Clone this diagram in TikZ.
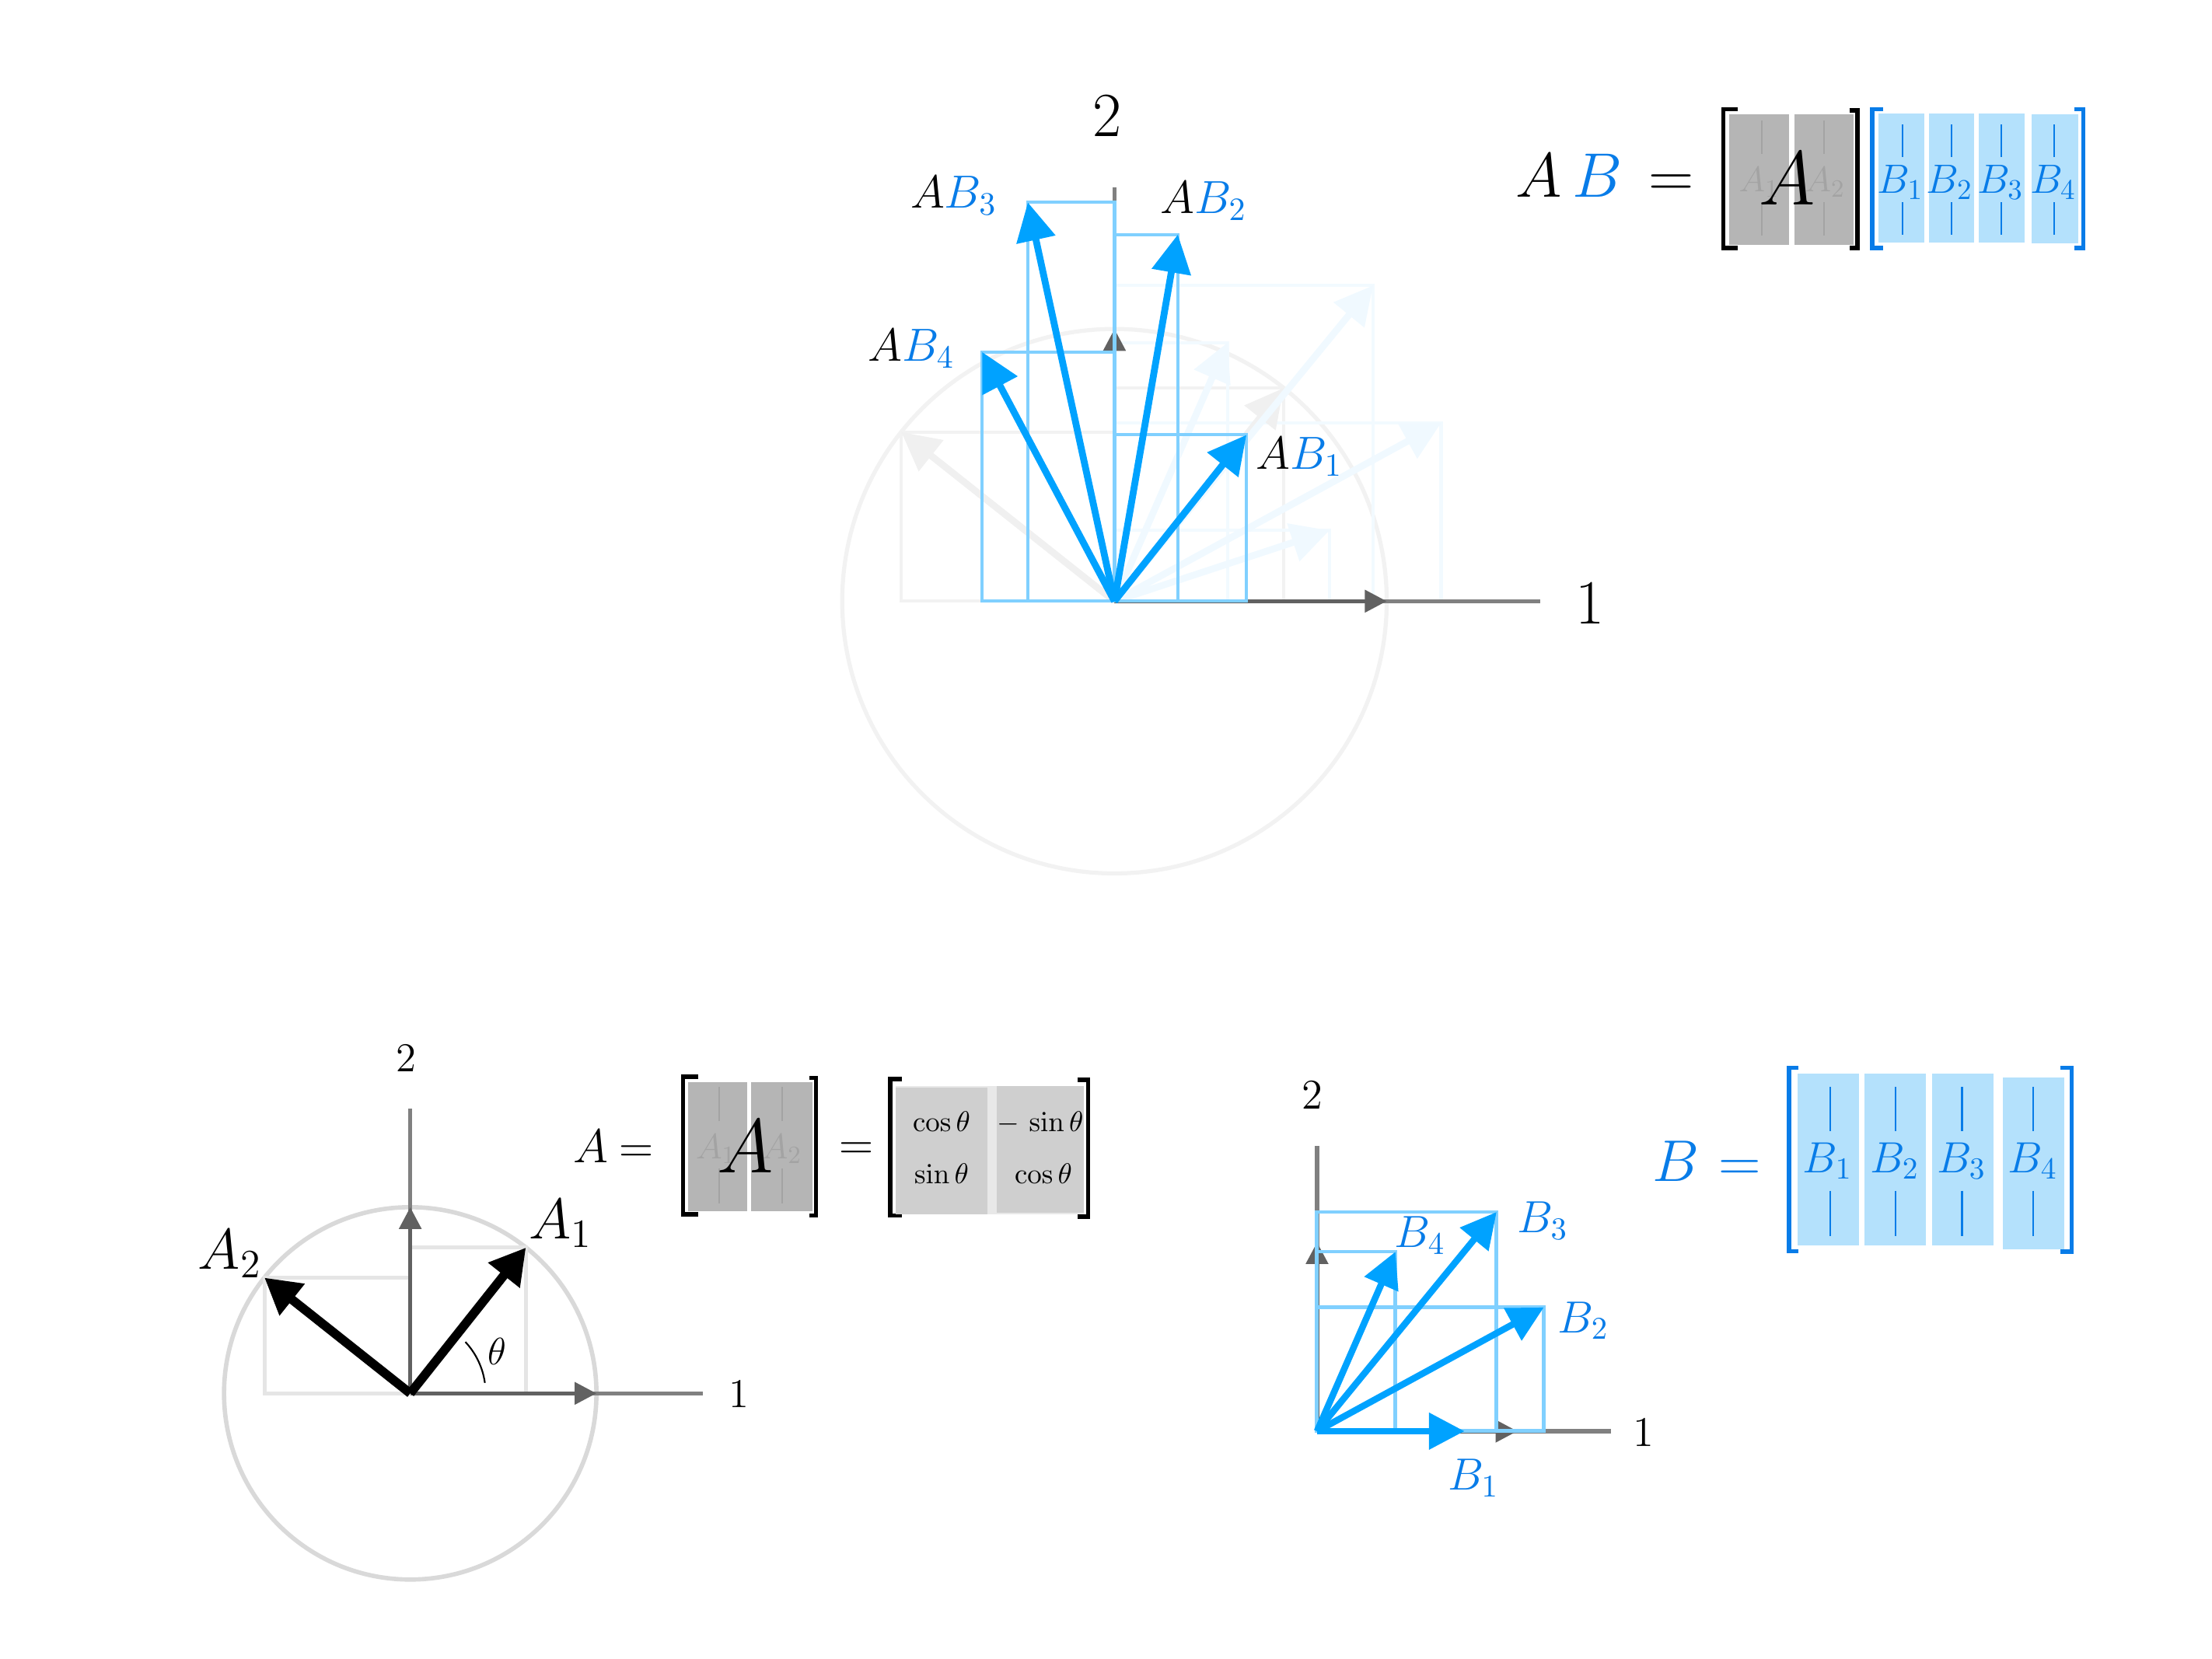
\RequirePackage{fix-cm}
\documentclass[tikz,border=0pt]{standalone}
\usepackage{amsfonts, amssymb, amsmath}
\usepackage{tikz}
\usetikzlibrary{arrows.meta}

\definecolor{vecblue}{RGB}{0,162,255}
\definecolor{textblue}{RGB}{8,124,232}
\definecolor{colblue}{RGB}{180,225,252}
\newcommand{\fsz}[1]{\fontsize{#1}{#1}\selectfont}

\tikzset{
  every node/.style={inner sep=0pt},
  vecT/.style={>={Triangle[length=14pt,width=14pt]}, ->, line width=2.5pt, draw=vecblue},
  vecA/.style={>={Triangle[length=13pt,width=14pt]}, ->, line width=3.3pt, draw=black},
  vecB/.style={>={Triangle[length=13pt,width=13pt]}, ->, line width=2.4pt, draw=vecblue},
  unitvec/.style={>={Triangle[length=8pt,width=8pt]}, ->, line width=1.5pt, draw=black!62},
  axisline/.style={line width=1.5pt, draw=black!50},
  compbox/.style={line width=1.2pt, draw=vecblue!50},
  grayboxA/.style={line width=1.4pt, draw=black!10},
  bracket/.style={line width=1.6pt},
  colrule/.style={line width=0.6pt},
}

\begin{document}
\begin{tikzpicture}[x=0.18145mm, y=-0.18145mm]
    \useasboundingbox (0,0) rectangle (1568,1176);

    % ---- top: the columns of AB ----
    \begin{scope}[shift={(790,426.2)}, x=35.02mm, y=35.02mm]
        \coordinate (OT) at (0,0);
        \draw[line width=1.5pt, black!5] (OT) circle (1);

        % faint columns of A and B before the product
        \coordinate (tA1) at ({cos(51.57)}, {sin(51.57)});
        \coordinate (tA2) at ({-sin(51.57)}, {cos(51.57)});
        \coordinate (tB1) at (0.79, 0.26);
        \coordinate (tB2) at (1.2, 0.655);
        \coordinate (tB3) at (0.95, 1.16);
        \coordinate (tB4) at (0.415, 0.95);
        \draw[line width=1.2pt, black!5] (OT) rectangle (tA1);
        \draw[line width=1.2pt, black!5] (OT) rectangle (tA2);
        \draw[line width=1.2pt, vecblue!5] (OT) rectangle (tB1);
        \draw[line width=1.2pt, vecblue!5] (OT) rectangle (tB2);
        \draw[line width=1.2pt, vecblue!5] (OT) rectangle (tB3);
        \draw[line width=1.2pt, vecblue!5] (OT) rectangle (tB4);
        \draw[vecT, draw=black!6, fill=black!6] (OT) -- (tA1);
        \draw[vecT, draw=black!6, fill=black!6] (OT) -- (tA2);
        \draw[vecT, draw=vecblue!6, fill=vecblue!6] (OT) -- (tB1);
        \draw[vecT, draw=vecblue!6, fill=vecblue!6] (OT) -- (tB2);
        \draw[vecT, draw=vecblue!6, fill=vecblue!6] (OT) -- (tB3);
        \draw[vecT, draw=vecblue!6, fill=vecblue!6] (OT) -- (tB4);

        % axes
        \coordinate (xT) at (1.565,0);
        \coordinate (yT) at (0,1.52);
        \coordinate (eT1) at (1,0);
        \coordinate (eT2) at (0,1);
        \draw[axisline] (OT) -- (xT);
        \draw[axisline] (OT) -- (yT);
        \draw[unitvec] (OT) -- (eT1);
        \draw[unitvec] (OT) -- (eT2);

        % columns of AB
        \coordinate (AB1) at ({0.78*cos(51.57)}, {0.78*sin(51.57)});
        \coordinate (AB2) at ({1.2*cos(51.57)-0.655*sin(51.57)}, {1.2*sin(51.57)+0.655*cos(51.57)});
        \coordinate (AB3) at ({0.95*cos(51.57)-1.16*sin(51.57)}, {0.95*sin(51.57)+1.16*cos(51.57)});
        \coordinate (AB4) at ({0.415*cos(51.57)-0.95*sin(51.57)}, {0.415*sin(51.57)+0.95*cos(51.57)});
        \draw[compbox] (OT) rectangle (AB1);
        \draw[compbox] (OT) rectangle (AB2);
        \draw[compbox] (OT) rectangle (AB3);
        \draw[compbox] (OT) rectangle (AB4);
        \draw[vecT] (OT) -- (AB1);
        \draw[vecT] (OT) -- (AB2);
        \draw[vecT] (OT) -- (AB3);
        \draw[vecT] (OT) -- (AB4);

        \node[font=\fsz{23pt}] (lT1) at (1.746,-0.009) {$1$};
        \node[font=\fsz{23pt}] (lT2) at (-0.026,1.783) {$2$};
        \node[font=\fsz{17pt}, anchor=base west] (lAB1) at (0.518,0.485) {$A{\color{textblue}B_1}$};
        \node[font=\fsz{17pt}, anchor=base west] (lAB2) at (0.166,1.425) {$A{\color{textblue}B_2}$};
        \node[font=\fsz{17pt}, anchor=base west] (lAB3) at (-0.751,1.445) {$A{\color{textblue}B_3}$};
        \node[font=\fsz{17pt}, anchor=base west] (lAB4) at (-0.907,0.882) {$A{\color{textblue}B_4}$};
    \end{scope}

    % ---- AB = [A][B] ----
    \node[font=\fsz{23pt}, anchor=base west] (ABlhs) at (1074,139.5) {$A\,{\color{textblue}B}$};
    \node[font=\fsz{23pt}, anchor=base] (ABeq) at (1184.5,139.5) {$=$};
    \draw[bracket] (1232,77.5) -- (1221.6,77.5) -- (1221.6,175.7) -- (1232,175.7);
    \fill[black!29] (1225.7,80.8) rectangle (1268.4,173.6);
    \fill[black!29] (1271.8,80.8) rectangle (1314,173.6);
    \draw[black!36, colrule] (1249,85.4) -- (1249,109.3) (1249,143.3) -- (1249,167.2);
    \draw[black!36, colrule] (1293,85.4) -- (1293,109.3) (1293,143.3) -- (1293,167.2);
    \node[font=\fsz{13pt}, text=black!36, anchor=base] (ABa1) at (1247,136) {$A_1$};
    \node[font=\fsz{13pt}, text=black!36, anchor=base] (ABa2) at (1293.8,136) {$A_2$};
    \node[font=\fsz{28pt}, anchor=base] (ABbigA) at (1267,145) {$A$};
    \draw[bracket] (1311,78.4) -- (1316.5,78.4) -- (1316.5,175.7) -- (1311,175.7);
    \draw[bracket, textblue] (1335,77.5) -- (1327,77.5) -- (1327,175.7) -- (1335,175.7);
    \fill[colblue] (1331.7,80.5) rectangle (1364,171.8);
    \fill[colblue] (1367.2,80.5) rectangle (1399.3,171.8);
    \fill[colblue] (1402.8,80.5) rectangle (1435.3,171.8);
    \fill[colblue] (1440,81) rectangle (1473,172.6);
    \draw[textblue, colrule] (1348.5,88.2) -- (1348.5,111.1) (1348.5,143.3) -- (1348.5,166.3);
    \draw[textblue, colrule] (1383.3,88.2) -- (1383.3,111.1) (1383.3,143.3) -- (1383.3,166.3);
    \draw[textblue, colrule] (1418.7,88.2) -- (1418.7,111.1) (1418.7,143.3) -- (1418.7,166.3);
    \draw[textblue, colrule] (1456.2,88.2) -- (1456.2,111.1) (1456.2,143.3) -- (1456.2,166.3);
    \node[font=\fsz{15pt}, text=textblue, anchor=base] (ABb1) at (1347,136.9) {$B_1$};
    \node[font=\fsz{15pt}, text=textblue, anchor=base] (ABb2) at (1382,136.9) {$B_2$};
    \node[font=\fsz{15pt}, text=textblue, anchor=base] (ABb3) at (1418,136.9) {$B_3$};
    \node[font=\fsz{15pt}, text=textblue, anchor=base] (ABb4) at (1455.4,136.9) {$B_4$};
    \draw[bracket, textblue] (1470.6,77.5) -- (1476.7,77.5) -- (1476.7,175.7) -- (1470.6,175.7);

    % ---- bottom left: the columns of A ----
    \begin{scope}[shift={(290.8,987.8)}, x=23.95mm, y=23.95mm]
        \coordinate (OA) at (0,0);
        \draw[line width=1.6pt, black!15] (OA) circle (1);
        \coordinate (A1) at ({cos(51.57)}, {sin(51.57)});
        \coordinate (A2) at ({-sin(51.57)}, {cos(51.57)});
        \draw[grayboxA] (OA) rectangle (A1);
        \draw[grayboxA] (OA) rectangle (A2);

        \coordinate (xA) at (1.57,0);
        \coordinate (yA) at (0,1.53);
        \coordinate (eA1) at (1,0);
        \coordinate (eA2) at (0,1);
        \draw[axisline] (OA) -- (xA);
        \draw[axisline] (OA) -- (yA);
        \draw[unitvec] (OA) -- (eA1);
        \draw[unitvec] (OA) -- (eA2);

        \draw[vecA] (OA) -- (A1);
        \draw[vecA] (OA) -- (A2);
        \draw[line width=0.6pt] (8:0.405) arc[start angle=8, end angle=43, radius=0.405];

        \node[font=\fsz{15pt}] (lA1) at (1.764,-0.004) {$1$};
        \node[font=\fsz{15pt}] (lA2) at (-0.021,1.797) {$2$};
        \node[font=\fsz{21pt}, anchor=base west] (lA1v) at (0.634,0.829) {$A_1$};
        \node[font=\fsz{21pt}, anchor=base west] (lA2v) at (-1.142,0.666) {$A_2$};
        \node[font=\fsz{14pt}] (ltheta) at (0.465,0.227) {$\theta$};
    \end{scope}

    % ---- A = [A1 A2] = rotation ----
    \node[font=\fsz{17.4pt}, anchor=base] (Alhs) at (419,824) {$A$};
    \node[font=\fsz{17.4pt}, anchor=base] (Aeq1) at (451,824) {$=$};
    \draw[bracket] (495,763.3) -- (484.2,763.3) -- (484.2,860.7) -- (495,860.7);
    \fill[black!29] (487.8,767) rectangle (529.6,858.8);
    \fill[black!29] (532.6,767) rectangle (575.7,858.8);
    \draw[black!36, colrule] (509.6,770.6) -- (509.6,794.5) (509.6,828.5) -- (509.6,853.3);
    \draw[black!36, colrule] (554.3,770.6) -- (554.3,794.5) (554.3,828.5) -- (554.3,853.3);
    \node[font=\fsz{13pt}, text=black!36, anchor=base] (Aa1) at (507.6,821.2) {$A_1$};
    \node[font=\fsz{13pt}, text=black!36, anchor=base] (Aa2) at (554.3,821.2) {$A_2$};
    \node[font=\fsz{28pt}, anchor=base] (AbigA) at (528.4,831.3) {$A$};
    \draw[bracket] (574,764.2) -- (578.4,764.2) -- (578.4,861.6) -- (574,861.6);
    \node[font=\fsz{17.4pt}, anchor=base] (Aeq2) at (607.2,822) {$=$};
    \draw[bracket] (639.5,765) -- (631,765) -- (631,861.6) -- (639.5,861.6);
    \fill[black!9] (635,770) rectangle (768.3,861);
    \fill[black!19] (635,771) rectangle (700,861);
    \fill[black!19] (706.3,770) rectangle (768.3,860);
    \node[font=\fsz{10.5pt}, anchor=base] (r11) at (667.4,801.9) {$\cos\theta$};
    \node[font=\fsz{10.5pt}, anchor=base] (r12) at (737.4,801.9) {$-\,\sin\theta$};
    \node[font=\fsz{10.5pt}, anchor=base] (r21) at (667.4,839.2) {$\sin\theta$};
    \node[font=\fsz{10.5pt}, anchor=base] (r22) at (739.6,839.2) {$\cos\theta$};
    \draw[bracket] (763.6,765.5) -- (771.3,765.5) -- (771.3,862.5) -- (763.6,862.5);

    % ---- bottom right: the columns of B ----
    \begin{scope}[shift={(933.6,1014.6)}, x=24.31mm, y=24.31mm]
        \coordinate (OB) at (0,0);
        \coordinate (B1) at (0.78,0);
        \coordinate (B2) at (1.2,0.655);
        \coordinate (B3) at (0.95,1.16);
        \coordinate (B4) at (0.415,0.95);

        \coordinate (xB) at (1.554,0);
        \coordinate (yB) at (0,1.51);
        \coordinate (eB1) at (1.06,0);
        \coordinate (eB2) at (0,1);
        \draw[axisline] (OB) -- (xB);
        \draw[axisline] (OB) -- (yB);
        \draw[unitvec] (OB) -- (eB1);
        \draw[unitvec] (OB) -- (eB2);

        \draw[compbox, line width=1.4pt] (OB) rectangle (B2);
        \draw[compbox, line width=1.4pt] (OB) rectangle (B3);
        \draw[compbox, line width=1.4pt] (OB) rectangle (B4);
        \draw[vecB] (OB) -- (B1);
        \draw[vecB] (OB) -- (B2);
        \draw[vecB] (OB) -- (B3);
        \draw[vecB] (OB) -- (B4);

        \node[font=\fsz{15.5pt}] (lB1) at (1.727,-0.01) {$1$};
        \node[font=\fsz{15.5pt}] (lB2) at (-0.025,1.777) {$2$};
        \node[font=\fsz{16.5pt}, text=textblue, anchor=base west] (lB1v) at (0.69,-0.311) {$B_1$};
        \node[font=\fsz{16.5pt}, text=textblue, anchor=base west] (lB2v) at (1.272,0.522) {$B_2$};
        \node[font=\fsz{16.5pt}, text=textblue, anchor=base west] (lB3v) at (1.057,1.049) {$B_3$};
        \node[font=\fsz{16.5pt}, text=textblue, anchor=base west] (lB4v) at (0.408,0.971) {$B_4$};
    \end{scope}

    % ---- B = [B1 B2 B3 B4] ----
    \node[font=\fsz{21.5pt}, text=textblue, anchor=base] (Blhs) at (1188,837.7) {$B$};
    \node[font=\fsz{21.5pt}, text=textblue, anchor=base] (Beq) at (1233.3,837.7) {$=$};
    \draw[bracket, textblue] (1275,757) -- (1268.1,757) -- (1268.1,887) -- (1275,887);
    \fill[colblue] (1274.4,761) rectangle (1317.7,883);
    \fill[colblue] (1321.9,761) rectangle (1365.1,883);
    \fill[colblue] (1369.3,761) rectangle (1413,883);
    \fill[colblue] (1419.5,763.6) rectangle (1463.2,885.9);
    \draw[textblue, colrule] (1297.2,770.6) -- (1297.2,801.9) (1297.2,844.1) -- (1297.2,876.3);
    \draw[textblue, colrule] (1343.6,770.6) -- (1343.6,801.9) (1343.6,844.1) -- (1343.6,876.3);
    \draw[textblue, colrule] (1390.8,770.6) -- (1390.8,801.9) (1390.8,844.1) -- (1390.8,876.3);
    \draw[textblue, colrule] (1441,770.6) -- (1441,801.9) (1441,844.1) -- (1441,876.3);
    \node[font=\fsz{16pt}, text=textblue, anchor=base] (Bb1) at (1295.5,831.3) {$B_1$};
    \node[font=\fsz{16pt}, text=textblue, anchor=base] (Bb2) at (1343,831.3) {$B_2$};
    \node[font=\fsz{16pt}, text=textblue, anchor=base] (Bb3) at (1390.4,831.3) {$B_3$};
    \node[font=\fsz{16pt}, text=textblue, anchor=base] (Bb4) at (1441,831.3) {$B_4$};
    \draw[bracket, textblue] (1460.5,757) -- (1468.4,757) -- (1468.4,887.4) -- (1460.5,887.4);
\end{tikzpicture}
\end{document}
